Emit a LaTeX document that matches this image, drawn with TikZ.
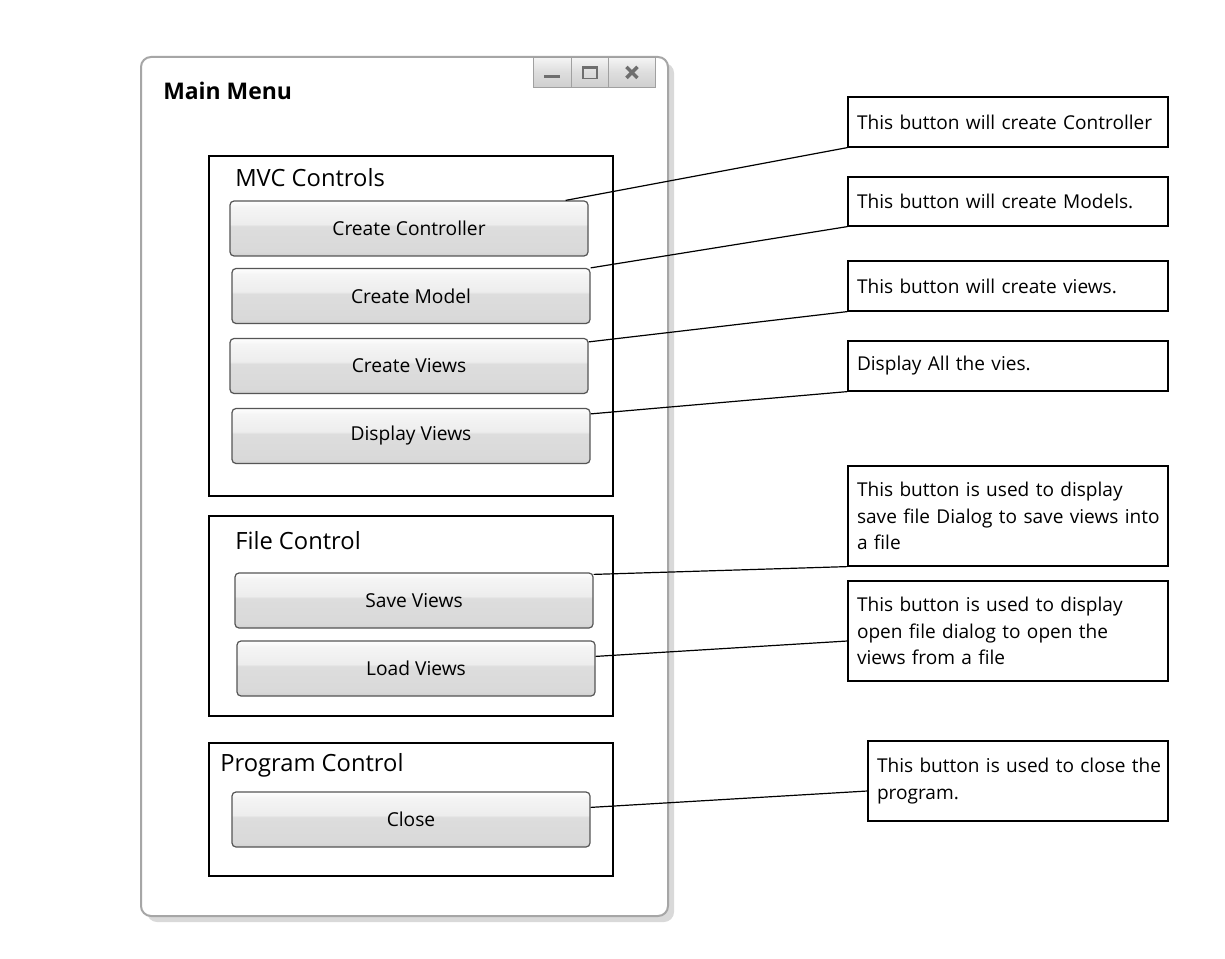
\documentclass[tikz,border=0pt]{standalone}
\usepackage{fontspec}
\setmainfont{Open Sans}
\usetikzlibrary{calc}
\definecolor{sh0}{HTML}{F5F5F5}
\definecolor{sh1}{HTML}{EDEDED}
\definecolor{sh2}{HTML}{DDDDDD}
\definecolor{sh3}{HTML}{D9D9D9}
\definecolor{sh4}{HTML}{CFCFCF}
\definecolor{winedge}{HTML}{A6A6A6}
\definecolor{winshadow}{HTML}{D9D9D9}
\definecolor{btnedge}{HTML}{555555}
\definecolor{tbedge}{HTML}{A0A0A0}
\definecolor{tbsym}{HTML}{6E6E6E}
\pgfdeclareverticalshading{btnshade}{100bp}{color(0bp)=(sh4); color(25bp)=(sh4); color(29bp)=(sh3); color(52bp)=(sh2); color(54bp)=(sh1); color(70bp)=(sh0); color(75bp)=(white); color(100bp)=(white)}
\pgfdeclareverticalshading{tbshade}{100bp}{color(0bp)=(sh4); color(25bp)=(sh4); color(50bp)=(sh2); color(75bp)=(sh0); color(100bp)=(sh0)}
\tikzset{
  btn/.style={draw=btnedge, line width=0.9pt, rounded corners=3pt, shading=btnshade,
    minimum width=268.5pt, minimum height=41.25pt, inner sep=0pt,
    font=\fontsize{14.4}{17}\selectfont},
  callout/.style={draw=black, line width=0.9pt, fill=white, align=left, inner xsep=6.75pt,
    inner ysep=0pt, font=\fontsize{14.3}{19.9}\selectfont},
  group/.style={draw=black, line width=1.1pt},
  grouplabel/.style={anchor=west, inner sep=0pt, font=\fontsize{17.8}{20}\selectfont},
  conn/.style={draw=black, line width=0.9pt},
  tbbtn/.style={draw=tbedge, line width=0.6pt, shading=tbshade, inner sep=0pt,
    minimum height=22.5pt},
  tbline/.style={draw=tbsym, line width=2pt},
}
\begin{document}
\begin{tikzpicture}[x=0.75pt,y=-0.75pt]
\useasboundingbox (0,0) rectangle (1225,959);
\fill[white] (0,0) rectangle (1225,959);
% window
\fill[winshadow, rounded corners=7.5pt] (147,63) rectangle (674,922);
\draw[winedge, fill=white, line width=1.5pt, rounded corners=7.5pt] (141,57) rectangle (668,916);
% title bar buttons
\node[tbbtn, minimum width=28.5pt, anchor=north west] (tbmin) at (533,57) {};
\node[tbbtn, minimum width=27.75pt, anchor=north west] (tbmax) at (571,57) {};
\node[tbbtn, minimum width=35.25pt, anchor=north west] (tbclose) at (608,57) {};
\draw[tbline] ($(tbmin.center)+(-8,4)$) -- ($(tbmin.center)+(8,4)$);
\draw[tbsym, line width=1pt] ($(tbmax.center)+(-7,-6)$) rectangle ($(tbmax.center)+(7,6)$);
\fill[tbsym] ($(tbmax.center)+(-7,-6)$) rectangle ($(tbmax.center)+(7,-3)$);
\draw[tbline, line width=2.6pt] ($(tbclose.center)+(-5.5,-5.5)$) -- ($(tbclose.center)+(5.5,5.5)$);
\draw[tbline, line width=2.6pt] ($(tbclose.center)+(-5.5,5.5)$) -- ($(tbclose.center)+(5.5,-5.5)$);
\node[anchor=west, inner sep=0pt, font=\bfseries\fontsize{17.2}{20}\selectfont] (title) at (163,91) {Main Menu};
% groups
\draw[group] (209,156) rectangle (613,496);
\draw[group] (209,516) rectangle (613,716);
\draw[group] (209,743) rectangle (613,876);
\node[grouplabel] (gmvc) at (235,178) {MVC Controls};
\node[grouplabel] (gfile) at (235,541) {File Control};
\node[grouplabel] (gprog) at (220,765) {Program Control};
% buttons
\node[btn] (b1) at (409,228.5) {Create Controller};
\node[btn] (b2) at (411,296) {Create Model};
\node[btn] (b3) at (409,366) {Create Views};
\node[btn] (b4) at (411,436) {Display Views};
\node[btn] (b5) at (414,600.5) {Save Views};
\node[btn] (b6) at (416,668.5) {Load Views};
\node[btn] (b7) at (411,819.5) {Close};
% callouts
\node[callout, text width=226.5pt, minimum height=37.5pt] (c1) at (1008,122) {\mbox{This button will create Controller}};
\node[callout, text width=226.5pt, minimum height=36.75pt] (c2) at (1008,201.5) {\mbox{This button will create Models.}};
\node[callout, text width=226.5pt, minimum height=37.5pt] (c3) at (1008,286) {\mbox{This button will create views.}};
\node[callout, text width=226.5pt, minimum height=37.5pt] (c4) at (1008,366) {\mbox{Display All the vies.}};
\node[callout, text width=226.5pt, minimum height=75pt] (c5) at (1008,516) {\mbox{This button is used to display}\\ \mbox{save file Dialog to save views into}\\ \mbox{a file}};
\node[callout, text width=226.5pt, minimum height=75pt] (c6) at (1008,631) {\mbox{This button is used to display}\\ \mbox{open file dialog to open the}\\ \mbox{views from a file}};
\node[callout, text width=211.5pt, minimum height=60pt] (c7) at (1018,781) {\mbox{This button is used to close the}\\ \mbox{program.}};
% connectors
\draw[conn] (c1.south west) -- ([xshift=-17.25pt]b1.north east);
\draw[conn] (c2.south west) -- (b2.north east);
\draw[conn] (c3.south west) -- ([yshift=-3pt]b3.north east);
\draw[conn] (c4.south west) -- ([yshift=-4.5pt]b4.north east);
\draw[conn] (c5.south west) -- ([yshift=-1.5pt]b5.north east);
\draw[conn] ([yshift=-7.5pt]c6.west) -- ([yshift=-12pt]b6.north east);
\draw[conn] ([yshift=-7.5pt]c7.west) -- ([yshift=-12pt]b7.north east);
\end{tikzpicture}
\end{document}
